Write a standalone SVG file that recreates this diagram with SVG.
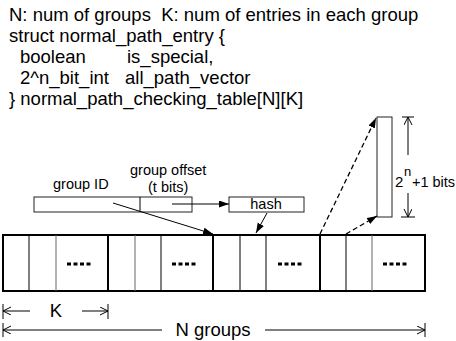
<svg xmlns="http://www.w3.org/2000/svg" width="456" height="341" viewBox="0 0 456 341">
<style>
text{font-family:"Liberation Sans",Arial,sans-serif;fill:#000}
.big{font-size:18.5px}
.sm{font-size:14.5px}
.box{fill:#fff;stroke:#222;stroke-width:1}
.outer{fill:none;stroke:#000;stroke-width:2}
.div{stroke:#000;stroke-width:2}
.in1{stroke:#000;stroke-width:1}
.in2{stroke:#666;stroke-width:1}
.dots{stroke:#000;stroke-width:3;stroke-dasharray:4 2.5}
.arr{stroke:#000;stroke-width:1;fill:none;marker-end:url(#fa)}
.dash{stroke:#000;stroke-width:1.3;fill:none;stroke-dasharray:5 3;marker-end:url(#fa)}
.dim{stroke:#000;stroke-width:1;fill:none}
.dima{stroke:#000;stroke-width:1;fill:none;marker-end:url(#oa)}
</style>
<defs>
<marker id="fa" markerUnits="userSpaceOnUse" markerWidth="12" markerHeight="10" refX="10" refY="3.5" orient="auto"><path d="M0,0 L10,3.5 L0,7 Z" fill="#000"/></marker>
<marker id="oa" markerUnits="userSpaceOnUse" markerWidth="10" markerHeight="10" refX="8" refY="4" orient="auto"><path d="M0,0 L8,4 L0,8" fill="none" stroke="#000" stroke-width="1"/></marker>
</defs>
<g id="code">
<text class="big" x="9" y="20.5" xml:space="preserve">N: num of groups  K: num of entries in each group</text>
<text class="big" x="9" y="42">struct normal_path_entry {</text>
<text class="big" x="20" y="63">boolean</text>
<text class="big" x="127" y="63">is_special,</text>
<text class="big" x="20" y="84">2^n_bit_int</text>
<text class="big" x="125" y="84">all_path_vector</text>
<text class="big" x="9" y="104.5">} normal_path_checking_table[N][K]</text>
</g>
<g id="key">
<rect class="box" x="34" y="197" width="158" height="15"/>
<line class="in1" x1="140" y1="197" x2="140" y2="212"/>
<text class="sm" x="53" y="189">group ID</text>
<text class="sm" x="130" y="175">group offset</text>
<text class="sm" x="148" y="192">(t bits)</text>
</g>
<g id="hash">
<rect class="box" x="229" y="197" width="75" height="15"/>
<text class="sm" x="266" y="208.5" text-anchor="middle">hash</text>
</g>
<g id="entry">
<rect class="box" x="377" y="117" width="15" height="100"/>
</g>
<g id="table">
<rect class="outer" x="3" y="235" width="422" height="56"/>
<line class="div" x1="108" y1="235" x2="108" y2="291"/>
<line class="div" x1="213" y1="235" x2="213" y2="291"/>
<line class="div" x1="320" y1="235" x2="320" y2="291"/>
<line class="in1" x1="29" y1="235" x2="29" y2="291"/>
<line class="in2" x1="56" y1="235" x2="56" y2="291"/>
<line class="in2" x1="135" y1="235" x2="135" y2="291"/>
<line class="in1" x1="161" y1="235" x2="161" y2="291"/>
<line class="in1" x1="240" y1="235" x2="240" y2="291"/>
<line class="in1" x1="266" y1="235" x2="266" y2="291"/>
<line class="in1" x1="346" y1="235" x2="346" y2="291"/>
<line class="in2" x1="372" y1="235" x2="372" y2="291"/>
<line class="dots" x1="67" y1="264" x2="91" y2="264"/>
<line class="dots" x1="172" y1="264" x2="196" y2="264"/>
<line class="dots" x1="278" y1="264" x2="302" y2="264"/>
<line class="dots" x1="383" y1="264" x2="407" y2="264"/>
</g>
<g id="connectors">
<line class="arr" x1="172" y1="204" x2="229" y2="204"/>
<line class="arr" x1="113" y1="203" x2="213" y2="234"/>
<line class="arr" x1="267" y1="213" x2="256" y2="233"/>
<line class="dash" x1="320" y1="234" x2="376" y2="118"/>
<line class="dash" x1="346" y1="234" x2="377" y2="216"/>
</g>
<g id="dims">
<line class="dim" x1="402" y1="117" x2="414" y2="117"/>
<line class="dima" x1="408" y1="155" x2="408" y2="117"/>
<line class="dima" x1="408" y1="193" x2="408" y2="217"/>
<line class="dim" x1="401" y1="217" x2="415" y2="217"/>
<text x="395" y="187" style="font-size:15px">2</text>
<text x="404" y="176" style="font-size:13px">n</text>
<text class="sm" x="412" y="187">+1 bits</text>
<line class="dim" x1="3" y1="304" x2="3" y2="319"/>
<line class="dima" x1="30" y1="311" x2="3" y2="311"/>
<line class="dima" x1="82" y1="311" x2="108" y2="311"/>
<line class="dim" x1="108" y1="304" x2="108" y2="319"/>
<text class="big" x="56" y="317" text-anchor="middle">K</text>
<line class="dim" x1="3" y1="323" x2="3" y2="337"/>
<line class="dima" x1="162" y1="330" x2="3" y2="330"/>
<line class="dima" x1="265" y1="330" x2="425" y2="330"/>
<line class="dim" x1="425" y1="323" x2="425" y2="337"/>
<text class="big" x="213" y="336" text-anchor="middle">N groups</text>
</g>
</svg>
